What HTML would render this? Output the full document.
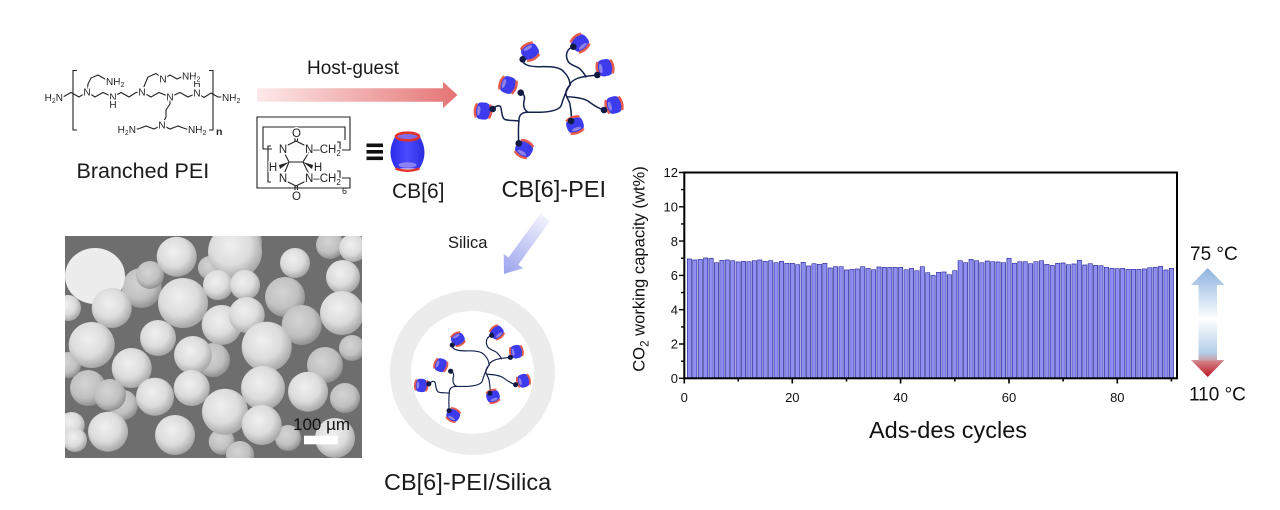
<!DOCTYPE html>
<html><head><meta charset="utf-8"><style>
html,body{margin:0;padding:0;background:#fff;}
svg{display:block;font-family:"Liberation Sans",Arial,sans-serif;}
.bars{fill:#8f8ff1;stroke:#2f2f9c;stroke-width:0.7}
.bond{fill:none;stroke:#222;stroke-width:1.1}
.lbl{font-size:10px;fill:#222;paint-order:stroke;stroke:#fff;stroke-width:3px}
.sf{font-size:11.5px;fill:#222;paint-order:stroke;stroke:#fff;stroke-width:3px}
</style></head><body>
<svg width="1280" height="510" viewBox="0 0 1280 510" xmlns="http://www.w3.org/2000/svg">
<defs>
 <linearGradient id="hg" x1="257" y1="0" x2="457" y2="0" gradientUnits="userSpaceOnUse">
  <stop offset="0" stop-color="#fdeaea"/><stop offset="1" stop-color="#e57474"/>
 </linearGradient>
 <linearGradient id="sg" x1="546" y1="216" x2="505" y2="273" gradientUnits="userSpaceOnUse">
  <stop offset="0" stop-color="#f2f3fd"/><stop offset="1" stop-color="#9ea5ee"/>
 </linearGradient>
 <linearGradient id="dg" x1="0" y1="268" x2="0" y2="377" gradientUnits="userSpaceOnUse">
  <stop offset="0" stop-color="#8cb3df"/>
  <stop offset="0.47" stop-color="#ffffff"/>
  <stop offset="0.78" stop-color="#b3cde9"/>
  <stop offset="0.84" stop-color="#c9a3ad"/>
  <stop offset="0.86" stop-color="#d47d84"/>
  <stop offset="1" stop-color="#bd1620"/>
 </linearGradient>
 <linearGradient id="blueg" x1="0" y1="0" x2="1" y2="0">
  <stop offset="0" stop-color="#2a2ae8"/><stop offset="0.5" stop-color="#4b4bff"/><stop offset="1" stop-color="#2a2ae0"/>
 </linearGradient>
 <radialGradient id="sph" cx="0.42" cy="0.38" r="0.62">
  <stop offset="0" stop-color="#f0f0f0"/><stop offset="0.6" stop-color="#dcdcdc"/><stop offset="1" stop-color="#a8a8a8"/>
 </radialGradient>
 <radialGradient id="sph2" cx="0.42" cy="0.38" r="0.62">
  <stop offset="0" stop-color="#d4d4d4"/><stop offset="0.65" stop-color="#c0c0c0"/><stop offset="1" stop-color="#929292"/>
 </radialGradient>
 <clipPath id="semclip"><rect x="65" y="236" width="297" height="222"/></clipPath>
 <g id="cb">
  <rect x="-8.5" y="-8" width="17" height="16" rx="6.5" fill="#3c3cee"/>
  <path d="M-7,-6.5 Q0,-10 7,-6.5" stroke="#e45a4c" stroke-width="2.4" fill="none"/>
  <path d="M-7,6.5 Q0,10 7,6.5" stroke="#e45a4c" stroke-width="2.4" fill="none"/>
  <ellipse cx="0" cy="4.3" rx="4.8" ry="1.7" fill="#8f82e8"/>
 </g>
 <g id="mol">
  <g fill="none" stroke="#16224e" stroke-width="1.5" stroke-linecap="round">
   <path d="M522.7,59.3 C522,64 528,67 540,66.7 C552,66.5 560,67 564,72 C568,76 570,80 570,85"/>
   <path d="M573.3,46.7 C566,49 565,56 568.3,61.7 C571,66 578,66 581,70 C584,73 585,75 586,77"/>
   <path d="M597.3,75 C590,76 582,76 576,79 C572,81 570,83 570,85"/>
   <path d="M570,85 C566,89 565,93 566.7,96.7 C568,100 570,102 570,105 C571,110 572,115 571,121"/>
   <path d="M566.7,96.7 C575,97 583,98 588,101 C592,104 597,108 604,110"/>
   <path d="M570,85 C566,90 563,100 561,106 C558,111 548,112 540,112.3 L528.3,112.3"/>
   <path d="M520.7,92.7 C525,94 525,98 524,101 C523,106 524,110 528.3,112.3"/>
   <path d="M528.3,112.3 C521,112 519,116 519,120 C518,128 518.5,136 518.7,143.3"/>
   <path d="M492.7,109 C496,106 500,104 501,108 C502,113 502,118 505,119.5 C509,121 514,120 519,121"/>
  </g>
  <use href="#cb" transform="translate(530,51.7) rotate(150)"/>
  <use href="#cb" transform="translate(580,43) rotate(-40)"/>
  <use href="#cb" transform="translate(605,67.7) rotate(80)"/>
  <use href="#cb" transform="translate(508,85) rotate(110)"/>
  <use href="#cb" transform="translate(483,111) rotate(95)"/>
  <use href="#cb" transform="translate(614,105) rotate(75)"/>
  <use href="#cb" transform="translate(575,125) rotate(-20)"/>
  <use href="#cb" transform="translate(524,149) rotate(30)"/>
  <g fill="#101a42">
   <circle cx="522.7" cy="59.3" r="3.3"/><circle cx="573.3" cy="46.7" r="3.3"/>
   <circle cx="597.3" cy="75" r="3.3"/><circle cx="520.7" cy="92.7" r="3.3"/>
   <circle cx="492.7" cy="109" r="3.3"/><circle cx="604" cy="110" r="3.3"/>
   <circle cx="571" cy="121" r="3.3"/><circle cx="518.7" cy="143.3" r="3.3"/>
  </g>
 </g>
</defs>

<!-- ================= Branched PEI structure ================= -->
<g>
 <path class="bond" d="M77,70.5 H73 V130 H77"/>
 <path class="bond" d="M209,70.5 H213 V130 H209"/>
 <text x="216" y="135" font-size="10.5" font-weight="bold" fill="#222">n</text>
 <polyline class="bond" points="63,97 71,92.5 79,97 87,92 95,97 103,92.5 113,97 121,92.5 129,97 136,92.5 142,92 151,97 159,92.5 170,97 180,92.5 188,97 197,93 204,97.5 211,93 218,97 224,97"/>
 <polyline class="bond" points="87,92 88,84 91,78 98,75 105,79 110,81"/>
 <polyline class="bond" points="142,92 145,84 148,77 156,73.5 163,79 170,75 177,79 184,76"/>
 <polyline class="bond" points="170,97 170,104 166,110 166,117 162,125 154,129 146,126 138,129 135,129"/>
 <polyline class="bond" points="162,125 170,129 178,126 186,129 189,129"/>
 <text class="lbl" x="63" y="101" text-anchor="end">H<tspan font-size="7" dy="2">2</tspan><tspan dy="-2">N</tspan></text>
 <text class="lbl" x="87" y="95.5" text-anchor="middle">N</text>
 <text class="lbl" x="113" y="100.5" text-anchor="middle">N</text>
 <text class="lbl" x="113" y="108" text-anchor="middle">H</text>
 <text class="lbl" x="142" y="95.5" text-anchor="middle">N</text>
 <text class="lbl" x="170" y="100.5" text-anchor="middle">N</text>
 <text class="lbl" x="197" y="96.5" text-anchor="middle">N</text>
 <text class="lbl" x="197" y="87" text-anchor="middle">H</text>
 <text class="lbl" x="163" y="82.5" text-anchor="middle">N</text>
 <text class="lbl" x="222" y="101">NH<tspan font-size="7" dy="2">2</tspan></text>
 <text class="lbl" x="106" y="85">NH<tspan font-size="7" dy="2">2</tspan></text>
 <text class="lbl" x="182" y="79.5">NH<tspan font-size="7" dy="2">2</tspan></text>
 <text class="lbl" x="162" y="128.5" text-anchor="middle">N</text>
 <text class="lbl" x="136" y="133" text-anchor="end">H<tspan font-size="7" dy="2">2</tspan><tspan dy="-2">N</tspan></text>
 <text class="lbl" x="188" y="133">NH<tspan font-size="7" dy="2">2</tspan></text>
</g>
<text x="76.5" y="178" font-size="21.5" fill="#1a1a1a">Branched PEI</text>

<!-- ================= Host-guest arrow ================= -->
<text x="307" y="74" font-size="19" fill="#1a1a1a">Host-guest</text>
<path d="M257,88.3 H443 V81.7 L457.5,95 L443,108.3 V101.7 H257 Z" fill="url(#hg)"/>

<!-- ================= CB[6] formula ================= -->
<g>
 <path class="bond" d="M342,150 H350 V117 H257 V188 H350 V178 H342" stroke-width="1.4"/>
 <path class="bond" d="M272,149 H263 V127 H345 V140" stroke-width="1.4"/>
 <path class="bond" d="M271,146 H268 V182 H271" stroke-width="1.2"/>
 <path class="bond" d="M337,142 H340 V155 H337" stroke-width="1.2"/>
 <path class="bond" d="M337,171 H340 V185 H337" stroke-width="1.2"/>
 <path class="bond" d="M286,146 L296,141 L306,146"/>
 <path class="bond" d="M295,141 V136 M297.5,141 V136"/>
 <path class="bond" d="M286,181 L296,186 L306,181"/>
 <path class="bond" d="M295,186 V191 M297.5,186 V191"/>
 <path class="bond" d="M284,152 L289,162 L284,174 M309,152 L303,162 L309,174 M289,162 H303"/>
 <path d="M279,165 L289,162 L280,169 Z" fill="#222"/>
 <path d="M313,165 L303,162 L312,169 Z" fill="#222"/>
 <text class="sf" x="283" y="153" text-anchor="middle">N</text>
 <text class="sf" x="283" y="182" text-anchor="middle">N</text>
 <text class="sf" x="296.5" y="137" text-anchor="middle">O</text>
 <text class="sf" x="296.5" y="200" text-anchor="middle">O</text>
 <text class="sf" x="305" y="153">N–CH<tspan font-size="8" dy="3">2</tspan></text>
 <text class="sf" x="305" y="182">N–CH<tspan font-size="8" dy="3">2</tspan></text>
 <text class="sf" x="273" y="171" text-anchor="middle">H</text>
 <text class="sf" x="318" y="171" text-anchor="middle">H</text>
 <text x="342" y="194" font-size="9" fill="#222">6</text>
</g>
<rect x="366.5" y="143.5" width="16.5" height="3.6" fill="#111"/>
<rect x="366.5" y="150" width="16.5" height="3.6" fill="#111"/>
<rect x="366.5" y="156.5" width="16.5" height="3.6" fill="#111"/>
<g transform="translate(407.5,152)">
 <path d="M-12,-16 Q-22,1 -12,16.5 L12,16.5 Q22,1 12,-16 Z" fill="url(#blueg)"/>
 <ellipse cx="0" cy="-15.5" rx="11.5" ry="3.8" fill="#7d6ee8" stroke="#e2302a" stroke-width="2.6"/>
 <ellipse cx="0" cy="13" rx="9" ry="2.8" fill="#8a80f2"/>
 <path d="M-12,16.5 Q0,21 12,16.5" stroke="#e2302a" stroke-width="2.4" fill="none"/>
</g>
<text x="392" y="198" font-size="21" fill="#1a1a1a">CB[6]</text>

<!-- ================= CB[6]-PEI molecule ================= -->
<use href="#mol"/>
<text x="501.5" y="197" font-size="23.5" fill="#1a1a1a">CB[6]-PEI</text>

<!-- ================= Silica arrow ================= -->
<text x="448" y="248" font-size="16.5" fill="#1a1a1a">Silica</text>
<path d="M550.1,221 L518.3,264.6 L523.1,268.2 L504,274 L503.7,254 L508.5,257.5 L540.3,213.9 Z" fill="url(#sg)"/>

<!-- ================= Silica ring ================= -->
<circle cx="472.5" cy="372.5" r="72" fill="none" stroke="#ececec" stroke-width="21"/>
<use href="#mol" transform="translate(473.5,374.5) scale(0.78) translate(-550,-97)"/>
<text x="384" y="490" font-size="23.5" fill="#1a1a1a">CB[6]-PEI/Silica</text>

<!-- ================= SEM image ================= -->
<g clip-path="url(#semclip)">
 <rect x="65" y="236" width="297" height="222" fill="#6e6e6e"/>
 <g fill="url(#sph2)">
  <circle cx="141.7" cy="288" r="20"/><circle cx="285" cy="297" r="20"/>
  <circle cx="301.7" cy="325" r="20"/><circle cx="325" cy="365" r="18"/>
  <circle cx="213" cy="360" r="17"/><circle cx="88" cy="388" r="18"/>
  <circle cx="123" cy="405" r="15"/><circle cx="288" cy="438" r="13"/>
  <circle cx="221.7" cy="441.7" r="13"/><circle cx="68" cy="365" r="13"/>
  <circle cx="352" cy="348" r="13"/><circle cx="345" cy="398" r="15"/>
  <circle cx="246" cy="242" r="16"/><circle cx="110" cy="395" r="16"/>
  <circle cx="150" cy="275" r="14"/><circle cx="210" cy="268" r="12"/>
  <circle cx="330" cy="245" r="14"/><circle cx="240" cy="455" r="14"/>
 </g>
 <g fill="url(#sph)">
  <ellipse cx="95" cy="276" rx="30" ry="28" fill="#ececec"/>
  <circle cx="176.7" cy="256.7" r="20"/><circle cx="235" cy="251.7" r="27"/>
  <circle cx="295" cy="263" r="15"/><circle cx="343" cy="277" r="17"/>
  <circle cx="183" cy="303" r="25"/><circle cx="218" cy="285" r="15"/>
  <circle cx="245" cy="285" r="15"/><circle cx="342" cy="313" r="22"/>
  <circle cx="221.7" cy="325" r="20"/><circle cx="246.7" cy="315" r="18"/>
  <circle cx="111.7" cy="308" r="20"/><circle cx="91.7" cy="345" r="23"/>
  <circle cx="158" cy="338" r="18"/><circle cx="193" cy="355" r="19"/>
  <circle cx="266.7" cy="346.7" r="25"/><circle cx="131.7" cy="368" r="20"/>
  <circle cx="263" cy="388" r="22"/><circle cx="191.7" cy="388" r="18"/>
  <circle cx="155" cy="396.7" r="19"/><circle cx="308" cy="391.7" r="20"/>
  <circle cx="225" cy="411.7" r="23"/><circle cx="175" cy="435" r="20"/>
  <circle cx="108" cy="431.7" r="20"/><circle cx="261.7" cy="425" r="20"/>
  <circle cx="71.7" cy="425" r="13"/><circle cx="335" cy="438" r="20"/>
  <circle cx="68" cy="308" r="13"/><circle cx="75" cy="440" r="12"/>
  <circle cx="353" cy="248" r="14"/>
 </g>
</g>
<text x="293" y="430" font-size="17" fill="#111">100 µm</text>
<rect x="304" y="435.7" width="34" height="8.6" fill="#ffffff"/>

<!-- ================= Bar chart ================= -->
<path class="bars" d="M687.3 378V259h4.2V378zM692.7 378V260h4.2V378zM698.2 378V259.3h4.2V378zM703.6 378V258h4.2V378zM709 378V258.3h4.2V378zM714.4 378V262.7h4.2V378zM719.8 378V260.3h4.2V378zM725.2 378V260h4.2V378zM730.6 378V260.7h4.2V378zM736.1 378V262h4.2V378zM741.5 378V261.3h4.2V378zM746.9 378V261.7h4.2V378zM752.3 378V260.7h4.2V378zM757.7 378V260h4.2V378zM763.1 378V261.3h4.2V378zM768.6 378V260.7h4.2V378zM774 378V262.7h4.2V378zM779.4 378V261.3h4.2V378zM784.8 378V263.3h4.2V378zM790.2 378V263.3h4.2V378zM795.6 378V264.7h4.2V378zM801.1 378V262.3h4.2V378zM806.5 378V266h4.2V378zM811.9 378V263.7h4.2V378zM817.3 378V264.3h4.2V378zM822.7 378V263.3h4.2V378zM828.1 378V268h4.2V378zM833.5 378V266.7h4.2V378zM839 378V266.7h4.2V378zM844.4 378V270h4.2V378zM849.8 378V269.3h4.2V378zM855.2 378V269h4.2V378zM860.6 378V266.7h4.2V378zM866 378V268.3h4.2V378zM871.5 378V269.7h4.2V378zM876.9 378V267h4.2V378zM882.3 378V267.3h4.2V378zM887.7 378V267.3h4.2V378zM893.1 378V267.3h4.2V378zM898.5 378V267.3h4.2V378zM904 378V269.7h4.2V378zM909.4 378V268.3h4.2V378zM914.8 378V270.7h4.2V378zM920.2 378V266.7h4.2V378zM925.6 378V272.7h4.2V378zM931 378V275.3h4.2V378zM936.5 378V272.3h4.2V378zM941.9 378V272h4.2V378zM947.3 378V274.7h4.2V378zM952.7 378V270.7h4.2V378zM958.1 378V260.7h4.2V378zM963.5 378V262.7h4.2V378zM969 378V259.3h4.2V378zM974.4 378V260.7h4.2V378zM979.8 378V262.7h4.2V378zM985.2 378V261h4.2V378zM990.6 378V261.7h4.2V378zM996 378V262h4.2V378zM1001.4 378V262.7h4.2V378zM1006.9 378V258.3h4.2V378zM1012.3 378V263.3h4.2V378zM1017.7 378V261.7h4.2V378zM1023.1 378V261.7h4.2V378zM1028.5 378V263.7h4.2V378zM1033.9 378V261.7h4.2V378zM1039.4 378V260.7h4.2V378zM1044.8 378V264.3h4.2V378zM1050.2 378V265.3h4.2V378zM1055.6 378V263.3h4.2V378zM1061 378V263h4.2V378zM1066.4 378V264.7h4.2V378zM1071.9 378V264h4.2V378zM1077.3 378V260.3h4.2V378zM1082.7 378V265h4.2V378zM1088.1 378V263.7h4.2V378zM1093.5 378V265.3h4.2V378zM1098.9 378V265.7h4.2V378zM1104.4 378V267.3h4.2V378zM1109.8 378V268.3h4.2V378zM1115.2 378V268.7h4.2V378zM1120.6 378V268.3h4.2V378zM1126 378V269.3h4.2V378zM1131.4 378V269.3h4.2V378zM1136.8 378V269.3h4.2V378zM1142.3 378V269h4.2V378zM1147.7 378V267.7h4.2V378zM1153.1 378V267.3h4.2V378zM1158.5 378V266.3h4.2V378zM1163.9 378V270h4.2V378zM1169.3 378V268.3h4.2V378z"/>
<rect x="684.3" y="172.5" width="492.7" height="205.8" fill="none" stroke="#000" stroke-width="2"/>
<!-- x ticks -->
<path d="M684.3,378 v5.5 M792.3,378 v5.5 M900.6,378 v5.5 M1009,378 v5.5 M1117.3,378 v5.5 M738.2,378 v3.5 M846.5,378 v3.5 M954.8,378 v3.5 M1063.1,378 v3.5 M1171.4,378 v3.5" stroke="#000" stroke-width="1.6"/>
<!-- y ticks -->
<path d="M684,378.3 h-5 M684,344 h-5 M684,309.7 h-5 M684,275.4 h-5 M684,241.1 h-5 M684,206.8 h-5 M684,172.5 h-5 M684,361.2 h-3 M684,326.9 h-3 M684,292.6 h-3 M684,258.2 h-3 M684,223.9 h-3 M684,189.6 h-3" stroke="#000" stroke-width="1.4"/>
<g font-size="13" fill="#111" text-anchor="end">
 <text x="678" y="383">0</text><text x="678" y="348.7">2</text><text x="678" y="314.4">4</text>
 <text x="678" y="280.1">6</text><text x="678" y="245.8">8</text><text x="678" y="211.5">10</text>
 <text x="678" y="177.2">12</text>
</g>
<g font-size="13" fill="#111" text-anchor="middle">
 <text x="684.3" y="402">0</text><text x="792.3" y="402">20</text><text x="900.6" y="402">40</text>
 <text x="1009" y="402">60</text><text x="1117.3" y="402">80</text>
</g>
<text transform="translate(644.5,269) rotate(-90)" text-anchor="middle" font-size="16.6" fill="#111">CO<tspan font-size="11.5" dy="4">2</tspan><tspan dy="-4"> working capacity (wt%)</tspan></text>
<text x="948" y="438" text-anchor="middle" font-size="23.5" fill="#111">Ads-des cycles</text>

<!-- temperature arrow -->
<path d="M1207.7,268 L1224.5,285 H1217 V360 H1224.5 L1207.7,377 L1191,360 H1198.5 V285 H1191 Z" fill="url(#dg)"/>
<text x="1190" y="260" font-size="19" fill="#111">75 °C</text>
<text x="1189" y="400.5" font-size="19" fill="#111">110 °C</text>
</svg>
</body></html>
